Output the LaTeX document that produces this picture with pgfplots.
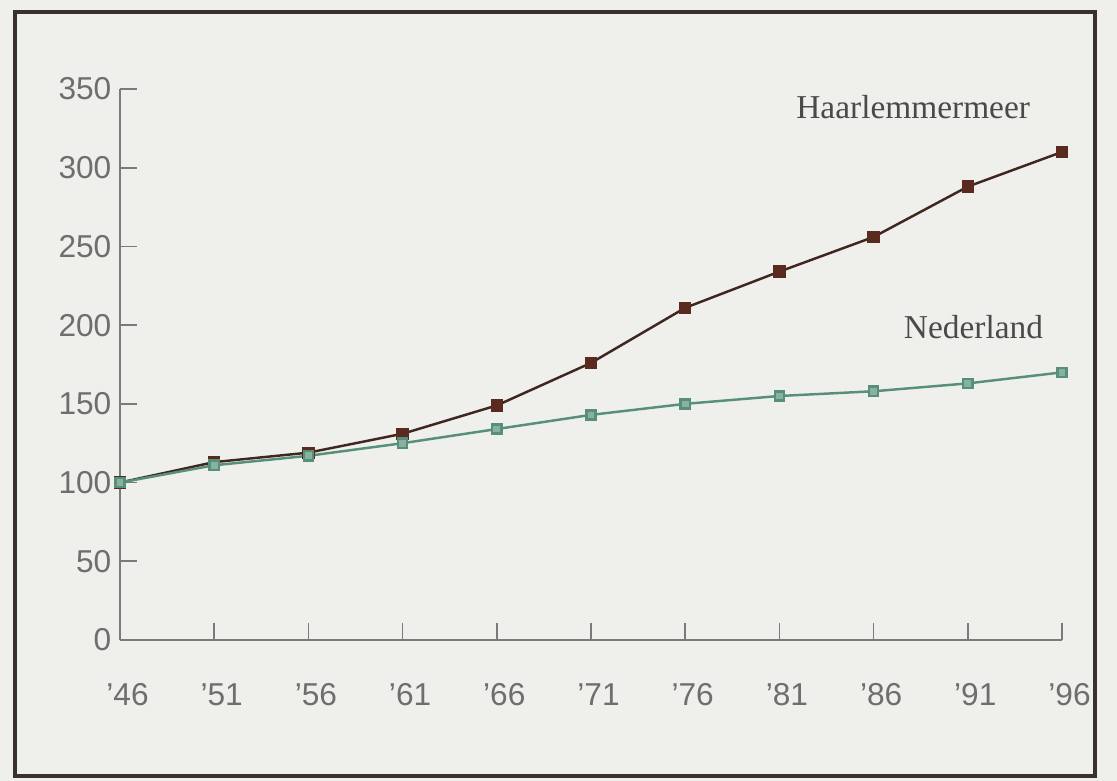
\documentclass[border=0pt]{standalone}
\usepackage{fontspec}
\setmainfont{Liberation Serif}
\setsansfont{Liberation Sans}
\usepackage{pgfplots}
\pgfplotsset{compat=1.18}

\definecolor{paper}{HTML}{EFEFEC}
\definecolor{frame}{HTML}{3A302C}
\definecolor{axisgrey}{HTML}{7A7A7A}
\definecolor{ticktext}{HTML}{6E6E6E}
\definecolor{haarl}{HTML}{3F2720}
\definecolor{haarlmark}{HTML}{5A2A1E}
\definecolor{nedl}{HTML}{56907A}
\definecolor{labeltext}{HTML}{4A4A4A}

\begin{document}
\begin{tikzpicture}[x=1cm,y=1cm]
% page background and scanned frame (1 px = 0.02 cm, axis origin at px 120,640)
\fill[paper] (-2.4,-2.82) rectangle (19.94,12.8);
\draw[frame, line width=1.8pt] (-2.1,-2.72) rectangle (19.5,12.56);
\begin{axis}[
    at={(0,0)}, anchor=origin,
    scale only axis,
    width=18.84cm, height=11.02cm,
    xmin=46, xmax=96,
    ymin=0, ymax=350,
    axis lines*=left,
    axis line style={axisgrey, line width=1.1pt},
    tick align=inside,
    xtick={46,51,...,96},
    xticklabels={'46,'51,'56,'61,'66,'71,'76,'81,'86,'91,'96},
    ytick={0,50,...,350},
    x tick style={axisgrey, line width=0.9pt},
    y tick style={axisgrey, line width=0.9pt},
    major tick length=0.34cm,
    x tick label style={font=\sffamily\fontsize{18}{20}\selectfont, text=ticktext, yshift=-0.75cm, xshift=0.15cm},
    y tick label style={font=\sffamily\fontsize{18}{20}\selectfont, text=ticktext, xshift=-0.05cm},
    /pgf/number format/assume math mode=true,
    clip=false,
]
% Haarlemmermeer
\addplot[haarl, line width=1.4pt, mark=square*, mark size=2.8pt,
    mark options={fill=haarlmark, draw=haarlmark}] coordinates {
    (46,100) (51,113) (56,119) (61,131) (66,149) (71,176)
    (76,211) (81,234) (86,256) (91,288) (96,310)};
% Nederland
\addplot[nedl, line width=1.4pt, mark=square*, mark size=2.6pt,
    mark options={fill=nedl!70!white, draw=nedl}] coordinates {
    (46,100) (51,111) (56,117) (61,125) (66,134) (71,143)
    (76,150) (81,155) (86,158) (91,163) (96,170)};
\node[text=labeltext, font=\fontsize{19}{21}\selectfont] at (axis cs:88.1,338.6) {Haarlemmermeer};
\node[text=labeltext, font=\fontsize{19}{21}\selectfont] at (axis cs:91.3,198.9) {Nederland};
\end{axis}
\end{tikzpicture}
\end{document}
